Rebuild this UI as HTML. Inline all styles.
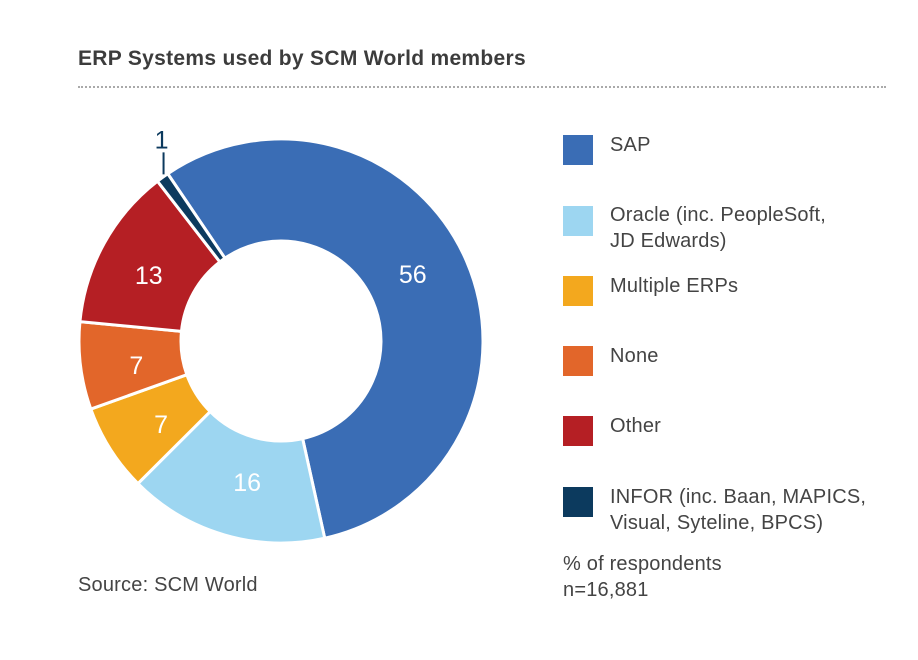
<!DOCTYPE html>
<html><head><meta charset="utf-8"><style>
body{margin:0;background:#fff;font-family:"Liberation Sans",Arial,sans-serif;}
#wrap{position:relative;width:918px;height:660px;overflow:hidden;}
.t{position:absolute;color:#444;}
.leg{position:absolute;left:563px;width:30px;height:30px;}
.lt{position:absolute;left:610px;font-size:20px;color:#444;line-height:26px;letter-spacing:0.2px;}
</style></head><body>
<div id="wrap">
<div class="t" style="left:78px;top:47px;font-size:21px;font-weight:bold;color:#3c3c3c;letter-spacing:0.3px;">ERP Systems used by SCM World members</div>
<div style="position:absolute;left:78px;top:86px;width:808px;border-top:2px dotted #aaa;"></div>
<svg id="pie" width="918" height="660" style="position:absolute;left:0;top:0"></svg>
<div class="leg" style="top:135px;background:#3a6db5"></div>
<div class="lt" style="top:132px">SAP</div>
<div class="leg" style="top:206px;background:#9dd6f1"></div>
<div class="lt" style="top:202px">Oracle (inc. PeopleSoft,<br>JD Edwards)</div>
<div class="leg" style="top:276px;background:#f3a81e"></div>
<div class="lt" style="top:273px">Multiple ERPs</div>
<div class="leg" style="top:346px;background:#e2662a"></div>
<div class="lt" style="top:343px">None</div>
<div class="leg" style="top:416px;background:#b51f24"></div>
<div class="lt" style="top:413px">Other</div>
<div class="leg" style="top:487px;background:#0c3a5e"></div>
<div class="lt" style="top:484px">INFOR (inc. Baan, MAPICS,<br>Visual, Syteline, BPCS)</div>
<div class="lt" style="left:563px;top:551px">% of respondents<br>n=16,881</div>
<div class="t" style="left:78px;top:574px;font-size:20px;letter-spacing:0.2px;">Source: SCM World</div>
</div>
<script>
const categories=["SAP","Oracle","Multiple ERPs","None","Other","INFOR"];
const values=[56,16,7,7,13,1];
const colors=["#3a6db5","#9dd6f1","#f3a81e","#e2662a","#b51f24","#0c3a5e"];
const labelColors=["#fff","#fff","#fff","#fff","#fff","#0c3a5e"];
const svg=document.getElementById('pie');
const NS="http://www.w3.org/2000/svg";
const cx=281,cy=341,R=202,r=100,start=-34.1;
const total=values.reduce((a,b)=>a+b,0);
function pt(a,rad){const t=a*Math.PI/180;return [cx+rad*Math.sin(t),cy-rad*Math.cos(t)];}
let a0=start;
values.forEach((v,i)=>{
  const a1=a0+v/total*360;
  const large=(a1-a0)>180?1:0;
  const p1=pt(a0,R),p2=pt(a1,R),p3=pt(a1,r),p4=pt(a0,r);
  const p=document.createElementNS(NS,'path');
  p.setAttribute('d',`M${p1[0]},${p1[1]}A${R},${R} 0 ${large} 1 ${p2[0]},${p2[1]}L${p3[0]},${p3[1]}A${r},${r} 0 ${large} 0 ${p4[0]},${p4[1]}Z`);
  p.setAttribute('fill',colors[i]);p.setAttribute('stroke','#fff');p.setAttribute('stroke-width','3');
  
  
  svg.appendChild(p);
  const m=(a0+a1)/2;
  const tx=document.createElementNS(NS,'text');
  let lx,ly;
  if(v/total<0.03){
    const q=pt(m,R);
    const ln=document.createElementNS(NS,'line');
    ln.setAttribute('x1',q[0]+1);ln.setAttribute('y1',q[1]-3);ln.setAttribute('x2',q[0]+1);ln.setAttribute('y2',q[1]-25);
    ln.setAttribute('stroke',colors[i]);ln.setAttribute('stroke-width','2');
    
    
    svg.appendChild(ln);
    lx=q[0]-1;ly=q[1]-38;
  } else {const c=pt(m-3,147);lx=c[0];ly=c[1]-2;}
  tx.setAttribute('x',lx);tx.setAttribute('y',ly+9);
  tx.setAttribute('text-anchor','middle');tx.setAttribute('font-size','25');
  tx.setAttribute('font-family','Liberation Sans, Arial, sans-serif');
  tx.setAttribute('fill',labelColors[i]);
  tx.textContent=v;
  
  
  svg.appendChild(tx);
  a0=a1;
});
</script>
</body></html>
